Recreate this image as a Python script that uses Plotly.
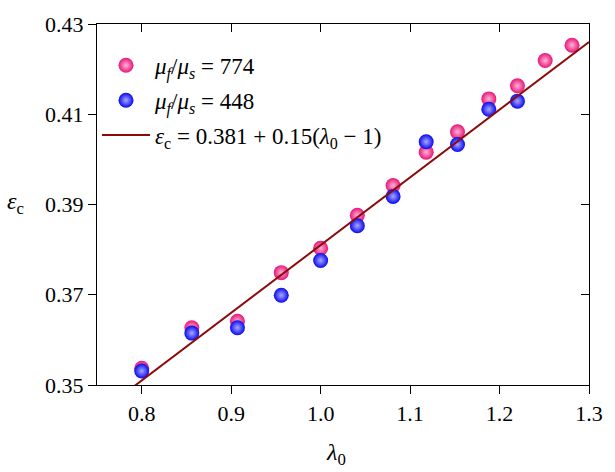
import plotly.graph_objects as go

# ---- data ----
lam_774 = [0.800, 0.856, 0.907, 0.956, 1.000, 1.041, 1.081, 1.118, 1.153, 1.188, 1.220, 1.251, 1.281]
eps_774 = [0.3537, 0.3627, 0.3641, 0.3749, 0.3803, 0.3876, 0.3942, 0.4016, 0.4061, 0.4134, 0.4163, 0.4219, 0.4253]
lam_448 = [0.800, 0.856, 0.907, 0.956, 1.000, 1.041, 1.081, 1.118, 1.153, 1.188, 1.220]
eps_448 = [0.3531, 0.3615, 0.3627, 0.3699, 0.3776, 0.3853, 0.3918, 0.4039, 0.4033, 0.4111, 0.4129]
fit_a = 0.381
fit_b = 0.15
fit_lam = [0.75, 1.30]
fit_eps = [fit_a + fit_b * (l - 1) for l in fit_lam]

x_ticks = [0.8, 0.9, 1.0, 1.1, 1.2, 1.3]
x_ticklabels = ["0.8", "0.9", "1.0", "1.1", "1.2", "1.3"]
y_ticks = [0.35, 0.37, 0.39, 0.41, 0.43]
y_ticklabels = ["0.35", "0.37", "0.39", "0.41", "0.43"]

PINK = "#EA1479"
BLUE = "#0808EE"
LINE = "#8B0A0A"
FONT = "Liberation Serif, Times New Roman, serif"

fig = go.Figure()

# invisible trace so the mirrored (top/right) axes are drawn
fig.add_trace(go.Scatter(x=fit_lam, y=fit_eps, xaxis="x2", yaxis="y2", mode="lines",
                         line=dict(width=0, color="rgba(0,0,0,0)"), showlegend=False,
                         hoverinfo="skip"))

fig.add_trace(go.Scatter(
    x=lam_774, y=eps_774, mode="markers", legendgroup="a",
    name="<i>μ<sub>f</sub></i>/<i>μ<sub>s</sub></i> = 774",
    marker=dict(size=15, color=PINK, line=dict(width=0),
                gradient=dict(type="radial", color="#F9B5D4")),
))
fig.add_trace(go.Scatter(
    x=lam_448, y=eps_448, mode="markers", legendgroup="b",
    name="<i>μ<sub>f</sub></i>/<i>μ<sub>s</sub></i> = 448",
    marker=dict(size=15, color=BLUE, line=dict(width=0),
                gradient=dict(type="radial", color="#A8A8FF")),
))
fig.add_trace(go.Scatter(
    x=fit_lam, y=fit_eps, mode="lines", legendgroup="c",
    name="<i>ε</i><sub>c</sub> = 0.381 + 0.15(<i>λ</i><sub>0</sub> − 1)",
    line=dict(color=LINE, width=2),
))

axis_common = dict(showgrid=False, zeroline=False, showline=True, linecolor="black",
                   linewidth=1.3, tickcolor="black", ticklen=8, tickwidth=1.3,
                   tickfont=dict(family=FONT, size=22, color="black"))

fig.update_layout(
    width=615, height=472,
    margin=dict(l=97, r=17, t=13, b=87),
    paper_bgcolor="white", plot_bgcolor="white",
    font=dict(family=FONT, color="black"),
    xaxis=dict(range=[0.75, 1.30], tickvals=x_ticks, ticktext=x_ticklabels,
               ticks="outside", **axis_common),
    yaxis=dict(range=[0.35, 0.43], tickvals=y_ticks, ticktext=y_ticklabels,
               ticks="outside", **axis_common),
    xaxis2=dict(overlaying="x", side="top", matches="x", range=[0.75, 1.30],
                tickvals=x_ticks, ticks="inside", showticklabels=False, **axis_common),
    yaxis2=dict(overlaying="y", side="right", matches="y", range=[0.35, 0.43],
                tickvals=y_ticks, ticks="inside", showticklabels=False, **axis_common),
    legend=dict(x=0.0, y=0.945, xanchor="left", yanchor="top",
                bgcolor="rgba(0,0,0,0)", borderwidth=0,
                font=dict(family=FONT, size=23, color="black"),
                itemwidth=48, tracegroupgap=2),
    showlegend=True,
    annotations=[
        dict(text="<i>λ</i><sub>0</sub>", xref="paper", yref="paper", x=0.485, y=-0.19,
             xanchor="center", yanchor="middle", showarrow=False,
             font=dict(family=FONT, size=24, color="black")),
        dict(text="<i>ε</i><sub>c</sub>", xref="paper", yref="paper", x=-0.165, y=0.505,
             xanchor="center", yanchor="middle", showarrow=False,
             font=dict(family=FONT, size=24, color="black")),
    ],
)

fig.write_html(
    "out.html",
    config={"displayModeBar": False},
    post_script="document.body.style.margin='0';document.body.style.overflow='hidden';",
)
